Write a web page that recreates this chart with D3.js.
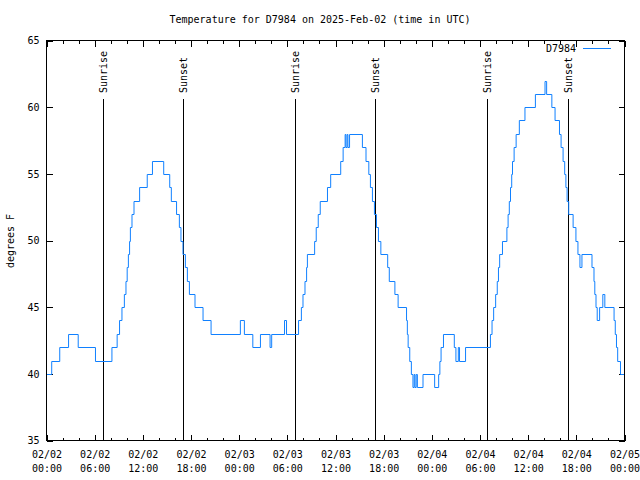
<!DOCTYPE html>
<html>
<head>
<meta charset="utf-8">
<script src="https://cdn.jsdelivr.net/npm/d3@7"></script>
<style>
  html, body { margin: 0; padding: 0; background: #fff; }
  svg { display: block; }
  text { font-family: "DejaVu Sans Mono", "Liberation Mono", monospace; font-size: 10px; fill: #000; }
</style>
</head>
<body>
<svg id="chart" width="640" height="480"></svg>
<script>
// ---- data (hours since 2025-02-02 00:00 UTC, temperature in degrees F) ----
const hours = [
  0, 0.65, 1.65, 2.75, 3.95, 6.1, 8.15, 8.8, 9.1, 9.4, 9.7, 9.9, 10.05, 10.2, 10.35, 10.45, 10.65, 10.9,
  11.6, 12.55, 13.2, 14.6, 15.35, 15.55, 16.2, 16.55, 16.75, 17.0, 17.3, 17.55, 17.8, 18.5, 19.5, 20.5,
  24.15, 24.65, 25.7, 26.65, 27.85, 28.05, 29.65, 29.9,
  31.4, 31.75, 31.95, 32.2, 32.4, 32.5, 33.4, 33.6, 33.85, 34.1, 35.0, 35.4, 36.65, 36.95, 37.2, 37.3,
  37.45, 37.55, 37.75, 39.35, 39.8, 40.15, 40.35, 40.6, 40.85, 41.1, 41.35, 41.65, 42.5, 42.7, 43.4, 43.8,
  44.85, 44.95, 45.05, 45.25, 45.45, 45.65, 45.8, 45.9, 46.05, 46.2, 46.9, 48.35, 48.85, 49.0, 49.15, 49.45,
  50.8, 51.0, 51.3, 51.45, 52.2,
  55.3, 55.5, 55.7, 55.95, 56.15, 56.3, 56.45, 56.8, 57.35, 57.5, 57.65, 57.8, 57.95, 58.05, 58.25, 58.5,
  58.9, 59.6, 60.9, 62.1, 62.3, 62.95, 63.35, 63.9, 64.1, 64.35, 64.55, 64.7, 64.85, 65.05, 65.6, 65.95,
  66.2, 66.45, 66.7, 67.95, 68.2, 68.3, 68.45, 68.6, 68.9, 69.3, 69.55, 70.7, 70.85, 71.0, 71.15, 71.5, 72
];
const temps = [
  40, 41, 42, 43, 42, 41, 42, 43, 44, 45, 46, 47, 48, 49, 50, 51, 52, 53,
  54, 55, 56, 55, 54, 53, 52, 51, 50, 49, 48, 47, 46, 45, 44, 43,
  44, 43, 42, 43, 42, 43, 44, 43,
  44, 45, 46, 47, 48, 49, 50, 51, 52, 53, 54, 55, 56, 57, 58, 57,
  58, 57, 58, 57, 56, 55, 54, 53, 52, 51, 50, 49, 48, 47, 46, 45,
  44, 43, 42, 41, 40, 39, 40, 39, 40, 39, 40, 39, 40, 41, 42, 43,
  42, 41, 42, 41, 42,
  43, 44, 45, 46, 47, 48, 49, 50, 51, 52, 53, 54, 55, 56, 57, 58,
  59, 60, 61, 62, 61, 60, 59, 58, 57, 56, 55, 54, 53, 52, 51, 50,
  49, 48, 49, 48, 47, 46, 45, 44, 45, 46, 45, 44, 43, 42, 41, 40, 40
];
const sunriseHours = [7.1, 31.0, 54.93];
const sunsetHours = [16.95, 40.97, 64.9];
const yTicks = [35, 40, 45, 50, 55, 60, 65];
const xMajorTicks = [0, 6, 12, 18, 24, 30, 36, 42, 48, 54, 60, 66, 72];
const xMinorTicks = [2, 4, 8, 10, 14, 16, 20, 22, 26, 28, 32, 34, 38, 40, 44, 46, 50, 52, 56, 58, 62, 64, 68, 70];
const xTickDates = ["02/02","02/02","02/02","02/02","02/03","02/03","02/03","02/03","02/04","02/04","02/04","02/04","02/05"];
const xTickTimes = ["00:00","06:00","12:00","18:00","00:00","06:00","12:00","18:00","00:00","06:00","12:00","18:00","00:00"];
const seriesName = "D7984";
const titleText = "Temperature for D7984 on 2025-Feb-02 (time in UTC)";
const yLabel = "degrees F";

// ---- layout ----
const L = 46.5, R = 624.5, T = 40.5, B = 440.5;
const lineColor = "#1080ff";
const svg = d3.select("#chart");

const x = d3.scaleLinear().domain([0, 72]).range([L, R]);
const y = d3.scaleLinear().domain([35, 65]).range([B, T]);

// title
svg.append("text").attr("x", 320).attr("y", 23).attr("text-anchor", "middle").text(titleText);

// y label
svg.append("text").attr("transform", "translate(14,241) rotate(-90)")
  .attr("text-anchor", "middle").text(yLabel);

// axes (ticks point inward)
const gBottomMinor = svg.append("g").attr("transform", `translate(0,${B})`)
  .call(d3.axisBottom(x).tickValues(xMinorTicks).tickSize(-3).tickFormat(""));
const gTopMinor = svg.append("g").attr("transform", `translate(0,${T})`)
  .call(d3.axisTop(x).tickValues(xMinorTicks).tickSize(-3).tickFormat(""));
const gBottom = svg.append("g").attr("transform", `translate(0,${B})`)
  .call(d3.axisBottom(x).tickValues(xMajorTicks).tickSize(-6).tickPadding(14).tickFormat(() => ""));
const gTop = svg.append("g").attr("transform", `translate(0,${T})`)
  .call(d3.axisTop(x).tickValues(xMajorTicks).tickSize(-6).tickFormat(""));
const gLeft = svg.append("g").attr("transform", `translate(${L},0)`)
  .call(d3.axisLeft(y).tickValues(yTicks).tickSize(-6).tickPadding(7).tickFormat(d3.format("d")));
const gRight = svg.append("g").attr("transform", `translate(${R},0)`)
  .call(d3.axisRight(y).tickValues(yTicks).tickSize(-6).tickFormat(""));

svg.selectAll(".domain").remove();
svg.selectAll(".tick line").attr("stroke", "#000").attr("shape-rendering", "crispEdges");
gLeft.selectAll("text").attr("font-size", "10px").attr("font-family", "DejaVu Sans Mono");

// two-line x tick labels
gBottom.selectAll(".tick text").each(function(d, i) {
  const t = d3.select(this).text("").attr("y", 0).attr("dy", null).attr("font-size", "10px")
    .attr("font-family", "DejaVu Sans Mono");
  t.append("tspan").attr("x", 0).attr("y", 17).text(xTickDates[i]);
  t.append("tspan").attr("x", 0).attr("y", 31).text(xTickTimes[i]);
});

// sunrise/sunset markers
const events = sunriseHours.map(h => ({h, label: "Sunrise"}))
  .concat(sunsetHours.map(h => ({h, label: "Sunset"})));
events.forEach(e => {
  const px = Math.round(x(e.h)) + 0.5;
  svg.append("line").attr("x1", px).attr("x2", px).attr("y1", 99).attr("y2", B)
    .attr("stroke", "#000").attr("stroke-width", 1).attr("shape-rendering", "crispEdges");
  svg.append("text").attr("transform", `translate(${px},93) rotate(-90)`)
    .attr("dy", "0.35em").attr("text-anchor", "start").text(e.label);
});

// temperature line
const data = hours.map((h, i) => ({h, t: temps[i]}));
const line = d3.line().x(d => x(d.h)).y(d => Math.round(y(d.t)) + 0.5).curve(d3.curveStepAfter);
svg.append("path").datum(data).attr("d", line)
  .attr("fill", "none").attr("stroke", lineColor).attr("stroke-width", 1);

// border
svg.append("rect").attr("x", L).attr("y", T).attr("width", R - L).attr("height", B - T)
  .attr("fill", "none").attr("stroke", "#000").attr("shape-rendering", "crispEdges");

// legend
svg.append("text").attr("x", 576).attr("y", 52).attr("text-anchor", "end").text(seriesName);
svg.append("line").attr("x1", 583).attr("x2", 611).attr("y1", 48.5).attr("y2", 48.5)
  .attr("stroke", lineColor).attr("stroke-width", 1);
</script>
</body>
</html>
